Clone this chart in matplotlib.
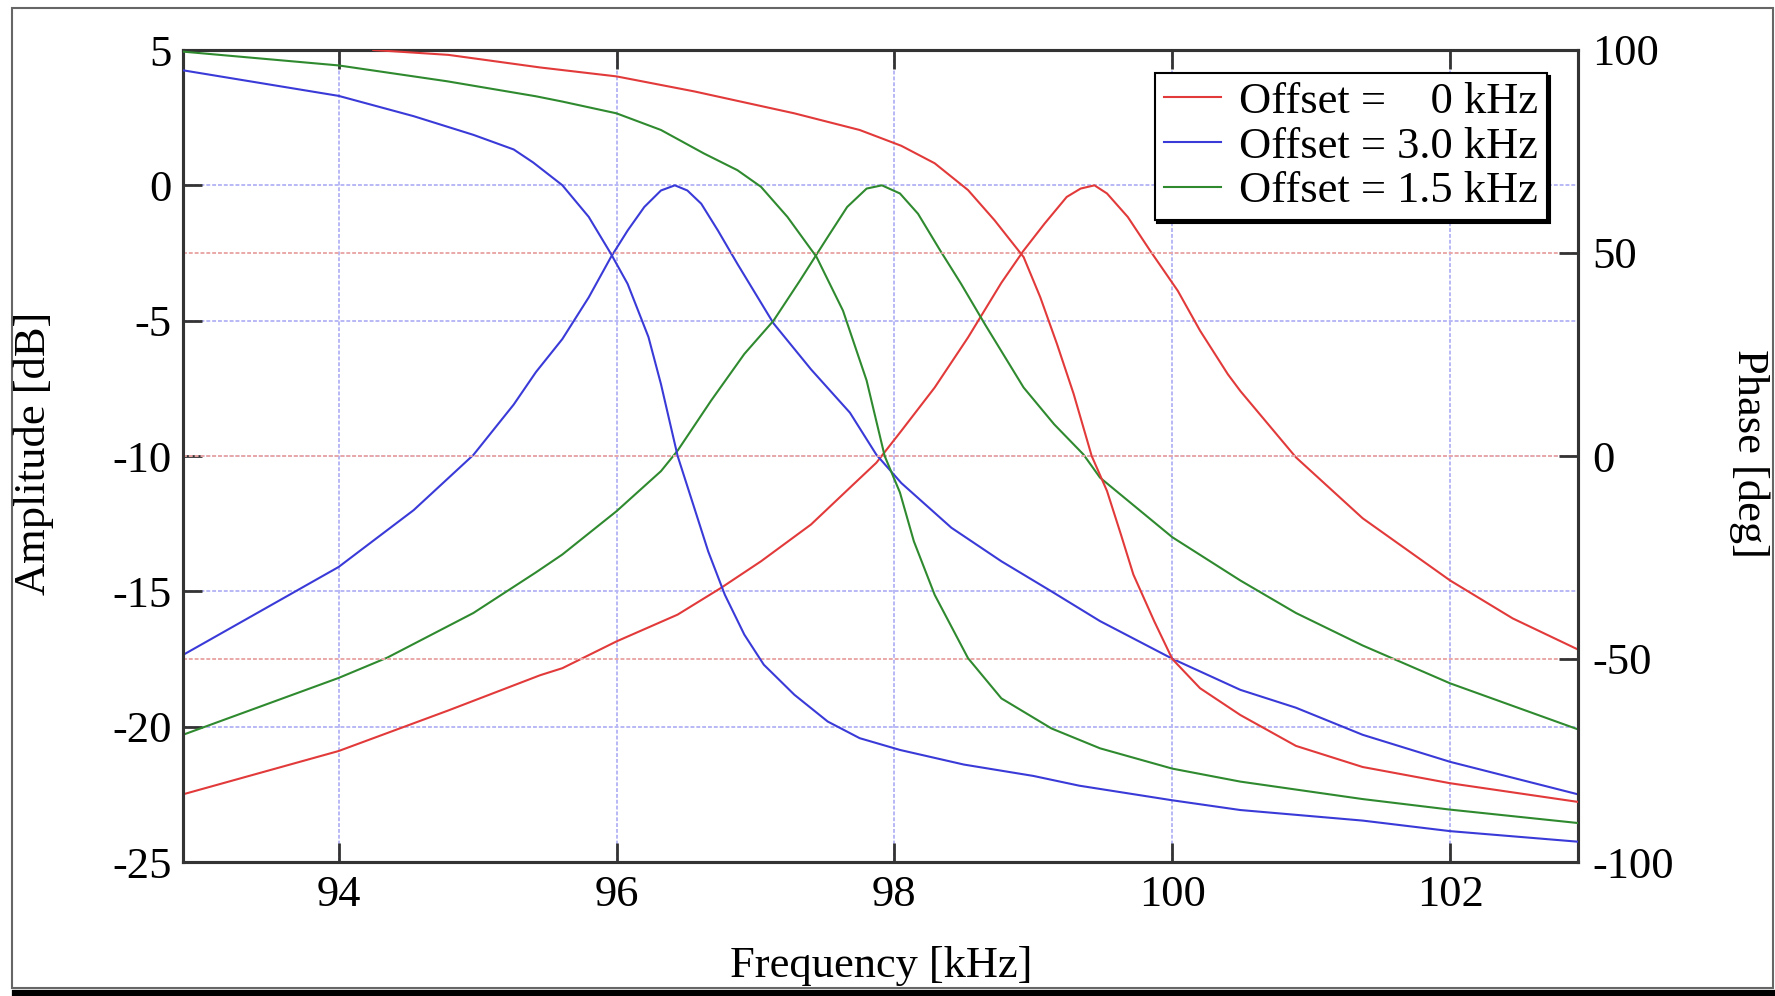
import matplotlib
matplotlib.use("Agg")
import matplotlib.pyplot as plt
from matplotlib.lines import Line2D
from matplotlib.patches import Rectangle

# ---------------- data ----------------
labels = ["Offset =    0 kHz", "Offset = 3.0 kHz", "Offset = 1.5 kHz"]
colors = ["#e23a3a", "#3a3ad8", "#2f8a2f"]

# Offset 0 kHz (red)
red_amp_f = [92.88, 94.0, 94.79, 95.45, 95.61, 96.0, 96.44, 96.75, 97.04, 97.40, 97.68,
             97.87, 98.05, 98.29, 98.53, 98.77, 98.93, 99.08, 99.24, 99.34, 99.44,
             99.53, 99.68, 99.84, 100.04, 100.20, 100.40, 100.49, 100.89, 101.37,
             102.0, 102.45, 102.92]
red_amp = [-22.5, -20.9, -19.4, -18.1, -17.84, -16.85, -15.86, -14.88, -13.89, -12.53, -11.17,
           -10.25, -9.07, -7.47, -5.62, -3.6, -2.41, -1.42, -0.43, -0.12, 0.0,
           -0.3, -1.17, -2.41, -3.9, -5.37, -6.98, -7.6, -10.05, -12.3,
           -14.6, -16.0, -17.15]
red_ph_f = [94.25, 94.79, 95.45, 96.0, 96.56, 97.28, 97.75, 98.05, 98.29, 98.53, 98.72,
            98.93, 99.05, 99.17, 99.29, 99.42, 99.53, 99.63, 99.72, 99.87, 100.0,
            100.20, 100.49, 100.89, 101.37, 102.0, 102.92]
red_ph = [100.0, 98.8, 95.7, 93.5, 89.8, 84.4, 80.3, 76.4, 72.1, 65.5, 58.1,
          49.0, 39.1, 27.6, 15.3, 0.0, -8.6, -19.3, -29.2, -40.7, -50.0,
          -57.2, -63.8, -71.4, -76.6, -80.6, -85.2]

# Offset 3.0 kHz (blue)
blue_amp_f = [92.88, 94.0, 94.54, 94.97, 95.26, 95.42, 95.61, 95.80, 95.96, 96.08, 96.20,
              96.32, 96.42, 96.51, 96.61, 96.73, 96.87, 97.13, 97.40, 97.68, 97.87,
              98.05, 98.41, 98.77, 99.13, 99.48, 100.0, 100.49, 100.89, 101.37,
              102.0, 102.92]
blue_amp = [-17.35, -14.1, -12.0, -9.96, -8.1, -6.9, -5.68, -4.14, -2.65, -1.67, -0.8,
            -0.19, 0.0, -0.19, -0.68, -1.67, -2.9, -5.1, -6.8, -8.4, -9.95,
            -11.0, -12.65, -13.89, -15.0, -16.1, -17.49, -18.64, -19.3, -20.3,
            -21.3, -22.5]
blue_ph_f = [92.88, 94.0, 94.54, 94.97, 95.26, 95.40, 95.61, 95.80, 95.96, 96.08, 96.23,
             96.32, 96.44, 96.56, 96.66, 96.78, 96.92, 97.06, 97.28, 97.52, 97.75,
             98.04, 98.50, 99.0, 99.33, 100.0, 100.49, 101.37, 102.0, 102.92]
blue_ph = [95.0, 88.7, 83.7, 79.1, 75.5, 72.3, 66.7, 58.9, 49.8, 42.4, 29.3,
           17.7, 0.0, -12.8, -23.5, -34.2, -44.0, -51.4, -58.8, -65.4, -69.5,
           -72.4, -76.0, -78.8, -81.2, -84.8, -87.2, -89.8, -92.4, -95.0]

# Offset 1.5 kHz (green)
green_amp_f = [92.88, 94.0, 94.35, 94.97, 95.42, 95.61, 96.0, 96.32, 96.44, 96.68, 96.92,
               97.13, 97.32, 97.52, 97.66, 97.80, 97.91, 98.04, 98.17, 98.33, 98.48,
               98.65, 98.93, 99.15, 99.36, 99.48, 100.0, 100.49, 100.89, 101.37,
               102.0, 102.92]
green_amp = [-20.3, -18.2, -17.45, -15.8, -14.3, -13.64, -12.04, -10.56, -9.8, -7.96, -6.23,
             -5.0, -3.52, -1.91, -0.8, -0.12, 0.0, -0.3, -1.05, -2.41, -3.64,
             -5.12, -7.47, -8.83, -9.94, -10.8, -13.0, -14.6, -15.8, -17.0,
             -18.4, -20.1]
green_ph_f = [92.88, 94.0, 94.78, 95.42, 95.61, 96.0, 96.32, 96.63, 96.87, 97.04, 97.23,
              97.44, 97.63, 97.80, 97.93, 98.04, 98.14, 98.29, 98.53, 98.77, 99.13,
              99.48, 100.0, 100.49, 101.37, 102.0, 102.92]
green_ph = [99.6, 96.2, 92.3, 88.6, 87.3, 84.4, 80.3, 74.5, 70.4, 66.3, 58.9,
            49.0, 35.8, 18.6, 0.0, -9.0, -21.0, -34.2, -49.8, -59.7, -67.1,
            -72.0, -77.0, -80.2, -84.5, -87.1, -90.4]

x_ticks = [94, 96, 98, 100, 102]
amp_ticks = [5, 0, -5, -10, -15, -20, -25]
ph_ticks = [100, 50, 0, -50, -100]

# ---------------- figure ----------------
W, H = 1775, 996
plt.rcParams["font.family"] = ["Liberation Serif", "DejaVu Serif"]
plt.rcParams["axes.unicode_minus"] = False
FS = 32

fig = plt.figure(figsize=(W / 100, H / 100), dpi=100)
fig.patch.set_facecolor("white")

L, R, B, T = 183 / W, 1578 / W, 1 - 862 / H, 1 - 50 / H
ax = fig.add_axes([L, B, R - L, T - B])
ax2 = ax.twinx()

ax.set_xlim(92.88, 102.92)
ax.set_ylim(-25, 5)
ax2.set_ylim(-100, 100)

grid_blue = "#b8b8f6"
grid_red = "#eaa8a8"
gls = (0, (2, 1))
for xv in x_ticks:
    ax.axvline(xv, color=grid_blue, lw=1.4, ls=gls, zorder=0)
for yv in amp_ticks:
    ax.axhline(yv, color=grid_blue, lw=1.4, ls=gls, zorder=0)
for pv in ph_ticks:
    ax2.axhline(pv, color=grid_red, lw=1.4, ls=gls, zorder=0)

series = [
    (red_amp_f, red_amp, red_ph_f, red_ph),
    (blue_amp_f, blue_amp, blue_ph_f, blue_ph),
    (green_amp_f, green_amp, green_ph_f, green_ph),
]
for (af, av, pf, pv), c in zip(series, colors):
    ax.plot(af, av, color=c, lw=1.5, zorder=3, solid_joinstyle="round")
    ax2.plot(pf, pv, color=c, lw=1.5, zorder=3, solid_joinstyle="round")

ax.set_xticks(x_ticks)
ax.set_yticks(amp_ticks)
ax2.set_yticks(ph_ticks)
ax.set_xticklabels([str(v) for v in x_ticks])
ax.set_yticklabels([str(v) for v in amp_ticks])
ax2.set_yticklabels([str(v) for v in ph_ticks])

ax.tick_params(axis="x", direction="in", length=14, width=2, top=True,
               labelsize=FS, pad=9, color="#333333")
ax.tick_params(axis="y", direction="in", length=14, width=2, right=False,
               labelsize=FS, pad=8, color="#333333")
ax2.tick_params(axis="y", direction="in", length=14, width=2,
                labelsize=FS, pad=10, color="#333333")

for a in (ax, ax2):
    for s in a.spines.values():
        s.set_linewidth(2.2)
        s.set_color("#333333")

fig.text(881 / W, 1 - 966 / H, "Frequency [kHz]", ha="center", va="center", fontsize=FS)
fig.text(34 / W, 1 - 453 / H, "Amplitude [dB]", ha="center", va="center",
         rotation=90, fontsize=FS)
fig.text(1749 / W, 1 - 453 / H, "Phase [deg]", ha="center", va="center",
         rotation=270, fontsize=FS)

handles = [Line2D([], [], color=c, lw=1.5) for c in colors]
leg = ax2.legend(handles, labels, loc="upper right",
                 bbox_to_anchor=(1547 / W, 1 - 73 / H), bbox_transform=fig.transFigure,
                 borderaxespad=0, fontsize=FS, handlelength=1.3, handletextpad=0.4,
                 labelspacing=0.1, borderpad=0.2, fancybox=False,
                 shadow={"color": "black", "alpha": 1.0}, framealpha=1,
                 edgecolor="black")
leg.get_frame().set_linewidth(1.5)
leg.set_zorder(10)

# figure frame with dark bottom edge
fig.patches.append(Rectangle((12 / W, 1 - 988 / H), (1773 - 12) / W, (988 - 8) / H,
                             transform=fig.transFigure, fill=False,
                             edgecolor="#666666", lw=1.5))
fig.lines.append(Line2D([15 / W, 1.0], [1 - 993 / H, 1 - 993 / H],
                        transform=fig.transFigure, color="black", lw=4.5))

fig.savefig("out.png", dpi=100)
